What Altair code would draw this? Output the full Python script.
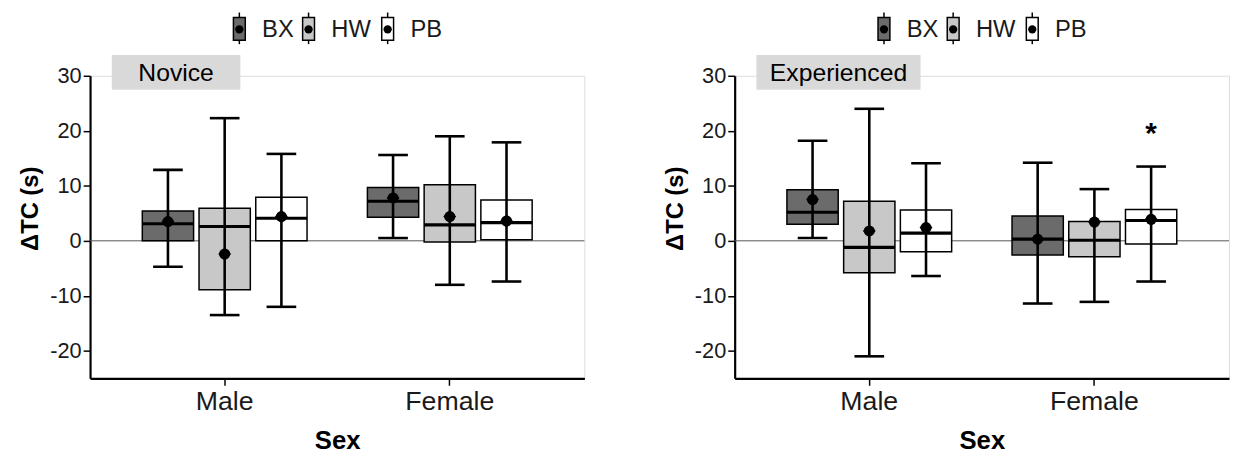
import altair as alt
import pandas as pd

sexes = ["Male", "Female"]
groups = ["BX", "HW", "PB"]
fills = ["#6b6b6b", "#c8c8c8", "#ffffff"]

# order: Male BX, HW, PB, Female BX, HW, PB
nov_lo = [-4.7, -13.5, -12.0, 0.5, -8.0, -7.4]
nov_q1 = [0.0, -8.9, 0.0, 4.3, -0.2, 0.2]
nov_med = [3.1, 2.6, 4.1, 7.2, 2.9, 3.3]
nov_q3 = [5.4, 5.9, 7.9, 9.7, 10.2, 7.4]
nov_hi = [12.9, 22.3, 15.8, 15.6, 19.0, 17.9]
nov_mean = [3.5, -2.4, 4.4, 7.8, 4.4, 3.6]

exp_lo = [0.5, -21.0, -6.4, -11.4, -11.1, -7.4]
exp_q1 = [3.0, -5.8, -2.0, -2.6, -2.9, -0.6]
exp_med = [5.2, -1.2, 1.4, 0.3, 0.1, 3.7]
exp_q3 = [9.3, 7.2, 5.6, 4.5, 3.5, 5.7]
exp_hi = [18.2, 24.0, 14.1, 14.2, 9.4, 13.5]
exp_mean = [7.5, 1.8, 2.4, 0.3, 3.4, 3.9]

star_sex = ["Female"]
star_group = ["PB"]
star_y = [20.4]

FONT = "Liberation Sans"
W, H = 500, 306


def make_df(lo, q1, med, q3, hi, mean):
    rows = []
    i = 0
    for s in sexes:
        for g in groups:
            rows.append(dict(sex=s, group=g, lo=lo[i], q1=q1[i], med=med[i],
                             q3=q3[i], hi=hi[i], mean=mean[i]))
            i += 1
    return pd.DataFrame(rows)


xscale = alt.Scale(domain=sexes, paddingInner=0.244, paddingOuter=0.22)
xoffscale = alt.Scale(domain=groups, paddingInner=0.096, paddingOuter=0.048)
yscale = alt.Scale(domain=[-25, 30], nice=False, zero=False)
cscale = alt.Scale(domain=groups, range=fills)

xaxis = alt.Axis(labelFontSize=27, labelFont=FONT, labelColor="#1a1a1a", labelAngle=0,
                 titleFontSize=26, titleFont=FONT, titleFontWeight="bold",
                 titleColor="black", domainColor="black", domainWidth=2.2,
                 tickColor="black", tickWidth=1.5, tickSize=7,
                 labelPadding=4, titlePadding=13, grid=False)
yaxis = alt.Axis(values=[-20, -10, 0, 10, 20, 30], labelExpr="'' + datum.value",
                 labelFontSize=22, labelFont=FONT,
                 labelColor="#1a1a1a", titleFontSize=24, titleFont=FONT,
                 titleFontWeight="bold", titleColor="black", domainColor="black",
                 domainWidth=2.2, tickColor="black", tickWidth=1.5, tickSize=7,
                 labelPadding=2, grid=False, titleX=-60, titleY=134,
                 titleAlign="center", titleBaseline="middle")


def X():
    return alt.X("sex:N", scale=xscale, sort=sexes, axis=xaxis, title="Sex")


def XO():
    return alt.XOffset("group:N", scale=xoffscale, sort=groups)


def Y(field):
    return alt.Y(field, type="quantitative", scale=yscale, axis=yaxis, title="ΔTC (s)")


def panel(df, label, box_x, box_x2, star=False):
    zero = alt.Chart(pd.DataFrame({"z": [0.0]})).mark_rule(
        color="#555555", strokeWidth=1).encode(y=Y("z"))
    base = alt.Chart(df)
    box = base.mark_bar(stroke="black", strokeWidth=1.5, opacity=1).encode(
        x=X(), xOffset=XO(), y=Y("q1"), y2="q3",
        fill=alt.Fill("group:N", scale=cscale, legend=None))
    whisk = base.mark_rule(color="black", strokeWidth=2.6).encode(
        x=X(), xOffset=XO(), y=Y("lo"), y2="hi")
    cap_lo = base.mark_tick(color="black", size=30, thickness=2.6, opacity=1,
                            orient="horizontal").encode(x=X(), xOffset=XO(), y=Y("lo"))
    cap_hi = base.mark_tick(color="black", size=30, thickness=2.6, opacity=1,
                            orient="horizontal").encode(x=X(), xOffset=XO(), y=Y("hi"))
    med = base.mark_tick(color="black", size=52, thickness=3.2, opacity=1,
                         orient="horizontal").encode(x=X(), xOffset=XO(), y=Y("med"))
    mean_c = base.mark_point(shape="circle", filled=True, opacity=1, color="black", size=125).encode(
        x=X(), xOffset=XO(), y=Y("mean"))
    mean_d = base.mark_point(shape="diamond", filled=True, opacity=1, color="black", size=170).encode(
        x=X(), xOffset=XO(), y=Y("mean"))
    layers = [zero, box, whisk, cap_lo, cap_hi, med, mean_c, mean_d]
    if star:
        sdf = pd.DataFrame({"sex": star_sex, "group": star_group, "y": star_y, "t": ["*"]})
        layers.append(alt.Chart(sdf).mark_text(font=FONT, fontSize=30, fontWeight="bold",
                                               baseline="middle", dy=6, color="black").encode(
            x=X(), xOffset=XO(), y=Y("y"), text="t:N"))
    # panel title box
    tdf = pd.DataFrame({"t": [label]})
    layers.append(alt.Chart(tdf).mark_rect(fill="#d9d9d9").encode(
        x=alt.value(box_x), x2=alt.value(box_x2), y=alt.value(-21), y2=alt.value(14)))
    layers.append(alt.Chart(tdf).mark_text(font=FONT, fontSize=25, color="black",
                                           align="center", baseline="middle").encode(
        x=alt.value((box_x + box_x2) / 2), y=alt.value(-3), text="t:N"))
    # legend
    center = W / 2
    offsets = [-99, -29, 51]
    for g, f, off in zip(groups, fills, offsets):
        lx = center + off
        ldf = pd.DataFrame({"t": [g]})
        layers.append(alt.Chart(ldf).mark_rule(color="black", strokeWidth=1.5).encode(
            x=alt.value(lx), y=alt.value(-64), y2=alt.value(-32)))
        layers.append(alt.Chart(ldf).mark_rect(fill=f, stroke="black", strokeWidth=1.5).encode(
            x=alt.value(lx - 6), x2=alt.value(lx + 6), y=alt.value(-59), y2=alt.value(-36)))
        layers.append(alt.Chart(ldf).mark_point(shape="circle", filled=True, opacity=1,
                                                color="black", size=70).encode(
            x=alt.value(lx), y=alt.value(-47)))
        layers.append(alt.Chart(ldf).mark_text(font=FONT, fontSize=24, color="#1a1a1a",
                                               align="left", baseline="middle").encode(
            x=alt.value(lx + 23), y=alt.value(-46), text="t:N"))
    return alt.layer(*layers).properties(width=W, height=H)


left = panel(make_df(nov_lo, nov_q1, nov_med, nov_q3, nov_hi, nov_mean), "Novice", 22, 152)
right = panel(make_df(exp_lo, exp_q1, exp_med, exp_q3, exp_hi, exp_mean), "Experienced", 22, 188, star=True)

chart = alt.hconcat(left, right, spacing=78).properties(
    padding={"left": 10, "top": 0, "right": 0, "bottom": 0}
).configure_view(stroke=None).configure(background="white")

chart.save("out.html", embed_options={"renderer": "svg", "actions": False})
